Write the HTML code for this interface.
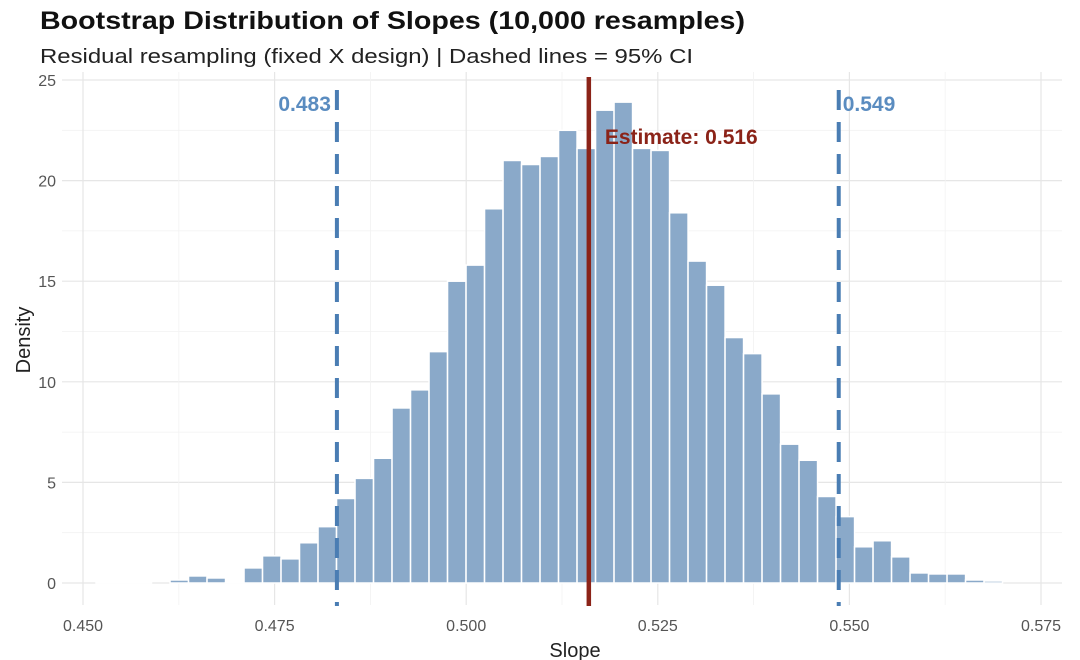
<!DOCTYPE html>
<html><head><meta charset="utf-8"><style>
body{margin:0;background:#fff;font-family:"Liberation Sans",sans-serif}
svg{display:block}
</style></head><body>
<svg id="c" width="1080" height="660">
<text x="40" y="29" font-size="25" font-weight="bold" fill="#111" textLength="705" lengthAdjust="spacingAndGlyphs">Bootstrap Distribution of Slopes (10,000 resamples)</text>
<text x="40" y="63" font-size="20" fill="#222" textLength="653" lengthAdjust="spacingAndGlyphs">Residual resampling (fixed X design) | Dashed lines = 95% CI</text>
<g id="grid"></g><g id="bars"></g><g id="lines"></g><g id="axes"></g>
<text x="575" y="657" font-size="20" fill="#222" text-anchor="middle">Slope</text>
<text transform="translate(30,340) rotate(-90)" font-size="20" fill="#222" text-anchor="middle">Density</text>
</svg>
<script>
const binStart = 0.4517;
const binWidth = 0.002414;
const densities = [0.02,0.03,0.03,0,0.15,0.35,0.25,0.02,0.75,1.35,1.2,2.0,2.8,4.2,5.2,6.2,8.7,9.6,11.5,15.0,15.8,18.6,21.0,20.8,21.2,22.5,21.6,23.5,23.9,21.6,21.5,18.4,16.0,14.8,12.2,11.4,9.4,6.9,6.1,4.3,3.3,1.8,2.1,1.3,0.5,0.45,0.45,0.15,0.1];
const xTicks = [0.450,0.475,0.500,0.525,0.550,0.575];
const yTicks = [0,5,10,15,20,25];
const ciLower = 0.483, ciUpper = 0.549, estimate = 0.516;

const NS="http://www.w3.org/2000/svg";
const X=v=>83+(v-0.450)*7664;
const Y=v=>583-v*20.12;
function mk(tag,attrs,parent,name){const e=document.createElementNS(NS,tag);for(const k in attrs)e.setAttribute(k,attrs[k]);


document.getElementById(parent).appendChild(e);return e;}
for(let i=0;i<yTicks.length;i++){const v=yTicks[i];
 mk('line',{x1:62,x2:1062,y1:Y(v),y2:Y(v),stroke:'#e6e6e6','stroke-width':1.2},'grid','y-gridline');
 if(i<yTicks.length-1){mk('line',{x1:62,x2:1062,y1:Y(v+2.5),y2:Y(v+2.5),stroke:'#f2f2f2','stroke-width':0.8},'grid','y-minor-gridline');}
 const t=mk('text',{x:56,y:Y(v)+6,'font-size':16,fill:'#555','text-anchor':'end'},'axes','y-tick-label');t.textContent=v;}
for(let i=0;i<xTicks.length;i++){const v=xTicks[i];
 mk('line',{x1:X(v),x2:X(v),y1:72,y2:605,stroke:'#e6e6e6','stroke-width':1.2},'grid','x-gridline');
 if(i<xTicks.length-1){mk('line',{x1:X(v+0.0125),x2:X(v+0.0125),y1:72,y2:605,stroke:'#f2f2f2','stroke-width':0.8},'grid','x-minor-gridline');}
 const t=mk('text',{x:X(v),y:631,'font-size':16,fill:'#555','text-anchor':'middle'},'axes','x-tick-label');t.textContent=v.toFixed(3);}
densities.forEach((d,i)=>{const x0=X(binStart+i*binWidth);const w=binWidth*7664;
 mk('rect',{x:x0,y:Y(d),width:w,height:Y(0)-Y(d),fill:'#8aa9c9',stroke:'#fff','stroke-width':1.5},'bars','histogram-bar');});
mk('line',{x1:X(ciLower)+1,x2:X(ciLower)+1,y1:90,y2:606,stroke:'#4a7db3','stroke-width':4,'stroke-dasharray':'20 12'},'lines','ci-lower-line');
mk('line',{x1:X(ciUpper)-3,x2:X(ciUpper)-3,y1:90,y2:606,stroke:'#4a7db3','stroke-width':4,'stroke-dasharray':'20 12'},'lines','ci-upper-line');
mk('line',{x1:X(estimate),x2:X(estimate),y1:77,y2:606,stroke:'#8b2318','stroke-width':4.5},'lines','estimate-line');
let t=mk('text',{x:X(ciLower)-5,y:111,'font-size':21,'font-weight':'bold',fill:'#5a8cc0','text-anchor':'end'},'lines','ci-lower-label');t.textContent=ciLower.toFixed(3);
t=mk('text',{x:X(ciUpper)+1,y:111,'font-size':21,'font-weight':'bold',fill:'#5a8cc0'},'lines','ci-upper-label');t.textContent=ciUpper.toFixed(3);
t=mk('text',{x:X(estimate)+16,y:144,'font-size':21,'font-weight':'bold',fill:'#8b2318'},'lines','estimate-label');t.textContent='Estimate: '+estimate.toFixed(3);
</script>
</body></html>
